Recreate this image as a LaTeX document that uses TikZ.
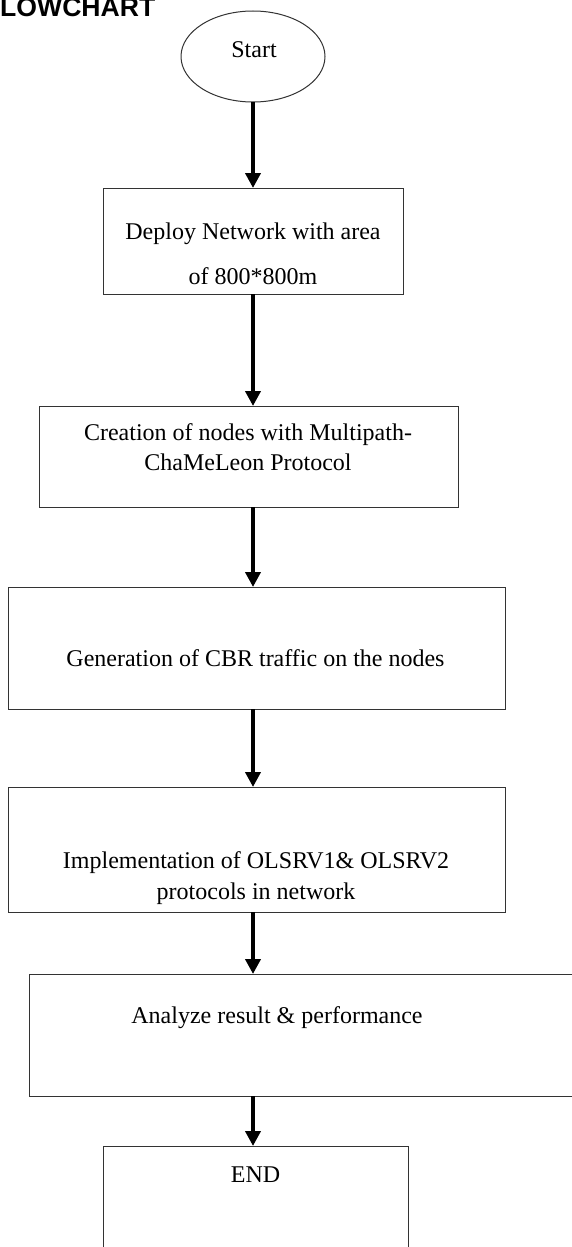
\documentclass[tikz,border=0pt]{standalone}
\usepackage{fontspec}
\setmainfont{Liberation Serif}
\newfontfamily\headfont{Liberation Sans}
\usetikzlibrary{shapes.geometric,arrows.meta}

\begin{document}
\begin{tikzpicture}[x=1pt, y=-1pt,
    stepbox/.style={draw=black!80, line width=1pt, rectangle, inner sep=0pt, outer sep=0pt},
    txt/.style={anchor=base, inner sep=0pt, font=\fontsize{24}{28}\selectfont},
    flow/.style={line width=4.5pt, -{Triangle[length=15pt, width=15pt]}}]

    \useasboundingbox (0,0) rectangle (572,1247);
    \clip (0,0) rectangle (572,1247);

    \node[anchor=base west, inner sep=0pt, font=\headfont\bfseries\fontsize{26.6}{30}\selectfont] (title) at (0,16.5) {LOWCHART};

    \node[draw=black!80, line width=1pt, ellipse, minimum width=144pt, minimum height=91pt, inner sep=0pt, outer sep=0pt] (start) at (253,56.5) {};
    \node[stepbox, minimum width=300pt, minimum height=106pt] (deploy) at (253,241) {};
    \node[stepbox, minimum width=419pt, minimum height=101pt] (create) at (248.5,456.5) {};
    \node[stepbox, minimum width=497pt, minimum height=122pt] (traffic) at (256.5,648) {};
    \node[stepbox, minimum width=497pt, minimum height=125pt] (olsr) at (256.5,849.5) {};
    \node[stepbox, minimum width=571pt, minimum height=122pt] (analyze) at (314.5,1035) {};
    \node[stepbox, minimum width=305pt, minimum height=124pt] (finish) at (255.5,1208) {};

    \node[txt] (t0) at (254,57) {Start};
    \node[txt] (t1a) at (253,239) {Deploy Network with area};
    \node[txt] (t1b) at (253,284) {of 800*800m};
    \node[txt] (t2a) at (248,440.5) {Creation of nodes with Multipath-};
    \node[txt] (t2b) at (248,470.5) {ChaMeLeon Protocol};
    \node[txt] (t3) at (255.5,666.5) {Generation of CBR traffic on the nodes};
    \node[txt] (t4a) at (256,868) {Implementation of OLSRV1\& OLSRV2};
    \node[txt] (t4b) at (256,899) {protocols in network};
    \node[txt] (t5) at (277,1023) {Analyze result \& performance};
    \node[txt] (t6) at (255.5,1182) {END};

    \draw [flow] (start.south) to (deploy.north);
    \draw [flow] (deploy.south) to (deploy.south |- create.north);
    \draw [flow] (deploy.south |- create.south) to (deploy.south |- traffic.north);
    \draw [flow] (deploy.south |- traffic.south) to (deploy.south |- olsr.north);
    \draw [flow] (deploy.south |- olsr.south) to (deploy.south |- analyze.north);
    \draw [flow] (deploy.south |- analyze.south) to (deploy.south |- finish.north);

\end{tikzpicture}
\end{document}
